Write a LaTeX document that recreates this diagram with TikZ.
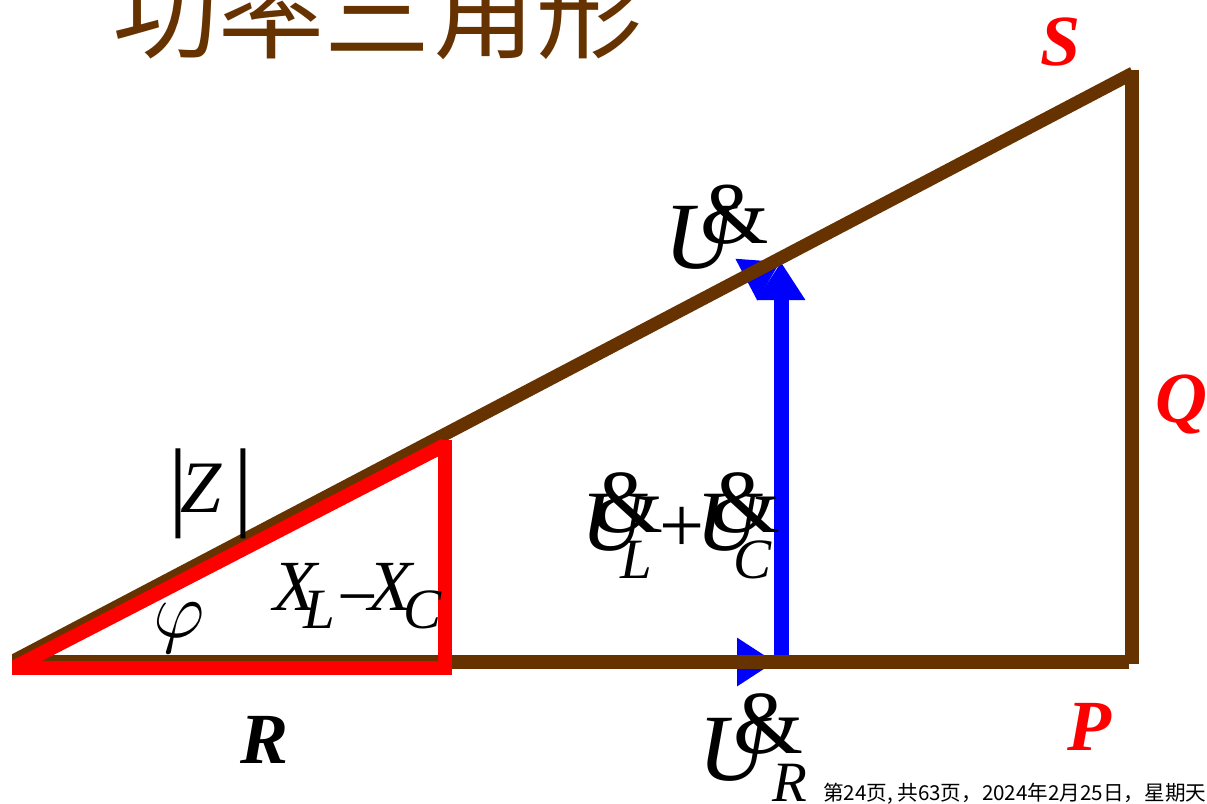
\RequirePackage{fix-cm}
\documentclass[tikz,border=0pt]{standalone}
\usepackage{fontspec}
\setmainfont{Liberation Serif}
\newfontfamily\cjk{Noto Sans CJK SC}
\usetikzlibrary{arrows.meta}
\definecolor{brn}{HTML}{663300}
\definecolor{rd}{HTML}{FF0000}
\definecolor{bl}{HTML}{0000FF}
\newcommand{\fsz}[1]{\fontsize{#1}{#1}\selectfont}
\tikzset{
  lab/.style={inner sep=0pt, outer sep=0pt, anchor=base west},
  brownline/.style={draw=brn, line width=13pt},
  redline/.style={draw=rd, line width=14pt},
  blueline/.style={draw=bl, line width=#1, -{Triangle[length=38pt,width=46pt]}},
  letter/.style={lab, text=black, font=\fsz{#1}\itshape},
  amp/.style={lab, text=black, font=\fsz{#1}},
  bigbold/.style={lab, font=\fsz{72}\bfseries\itshape},
}
\begin{document}
\begin{tikzpicture}[x=1pt,y=-1pt]
\useasboundingbox (0,0) rectangle (1207,803);
% coordinates
\coordinate (O) at (15,662);
\coordinate (Ob) at (15,664);
\coordinate (UR) at (775,662);
\coordinate (Vb) at (781,664);
\coordinate (Vt) at (781,262);
\coordinate (Dt) at (780,262);
\coordinate (BO) at (15,660);
\coordinate (BOh) at (12,662);
\coordinate (BP) at (1129,662);
\coordinate (BPv) at (1132,664);
\coordinate (BS) at (1133,73);
\coordinate (BSv) at (1132,70);
\coordinate (RO) at (15,667);
\coordinate (ROh) at (12,668);
\coordinate (RB) at (452,668);
\coordinate (RBv) at (445,675);
\coordinate (RT) at (445,440);
\coordinate (RTh) at (445,445);
% blue phasors
\draw[blueline=5pt] (Ob) -- (Dt);
\draw[blueline=10pt] (O) -- (UR);
\draw[blueline=15pt] (Vb) -- (Vt);
% brown power triangle
\draw[brownline] (BO) -- (BS);
\draw[brownline, line width=14pt] (BOh) -- (BP);
\draw[brownline, line width=14pt] (BPv) -- (BSv);
% red impedance triangle
\draw[redline] (ROh) -- (RB);
\draw[redline] (RBv) -- (RT);
\draw[redline] (RO) -- (RTh);
% title
\node[lab, text=brn, font=\cjk\fsz{106}] (title) at (112,50) {功率三角形};
% S Q P R
\node[bigbold, text=rd] (S) at (1040,65) {S};
\node[bigbold, text=rd] (Q) at (1155,422) {Q};
\node[bigbold, text=rd] (P) at (1067,750) {P};
\node[bigbold, text=black] (R) at (240,763) {R};
% U dot
\node[letter=95] (u1) at (664,268) {U};
\node[amp=88] (a1) at (700,243) {\&};
% U_L + U_C
\node[letter=86] (u2) at (581,550) {U};
\node[amp=90] (a2) at (593,532) {\&};
\node[letter=57] (l2) at (620,578) {L};
\node[amp=80] (plus) at (659,552) {+};
\node[letter=86] (u3) at (696,550) {U};
\node[amp=90] (a3) at (710,532) {\&};
\node[letter=57] (c3) at (733,578) {C};
% U_R
\node[letter=95] (u4) at (698,780) {U};
\node[amp=90] (a4) at (733,753) {\&};
\node[letter=57] (r4) at (772,801) {R};
% X_L - X_C
\node[letter=72] (x1) at (273,610) {X};
\node[letter=57] (xl) at (303,628) {L};
\node[amp=72] (minus) at (337,620) {−};
\node[letter=72] (x2) at (368,610) {X};
\node[letter=57] (xc) at (403,628) {C};
% |Z|
\node[amp=99] (bar1) at (168,517) {|};
\node[letter=74] (Z) at (180,512) {Z};
\node[amp=99] (bar2) at (233,517) {|};
% phi
\node[lab, font=\fsz{80}] (phi) at (153,637) {$\varphi$};
% footer
\node[lab, font=\cjk\fsz{20.6}] (foot) at (823,800) {第24页, 共63页，2024年2月25日，星期天};
\end{tikzpicture}
\end{document}
